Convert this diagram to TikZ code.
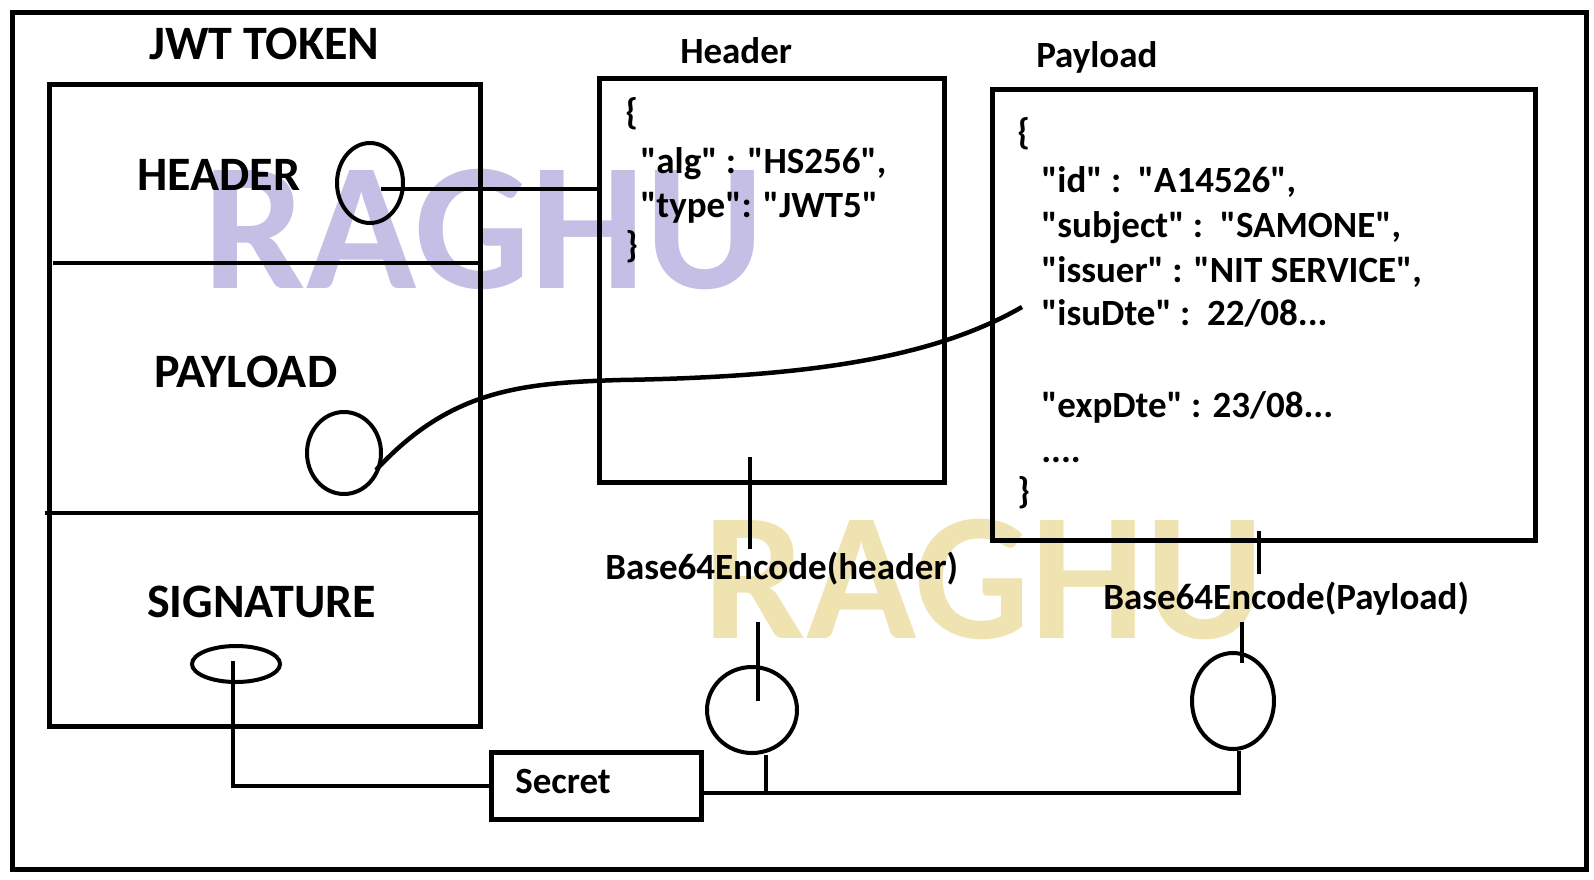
\documentclass[tikz,border=0pt]{standalone}
\usepackage{fontspec}
\setmainfont{Carlito}[Ligatures=TeXOff]
\usetikzlibrary{shapes.geometric}
\definecolor{wmpurple}{RGB}{197,190,229}
\definecolor{wmyellow}{RGB}{240,227,178}
\begin{document}
\begin{tikzpicture}[x=1pt,y=-1pt, line width=4.5pt,
  box/.style={draw, line width=4.5pt, anchor=north west, inner sep=0pt},
  oval/.style={draw, ellipse, line width=4pt, inner sep=0pt},
  big/.style={font=\fontsize{48}{58}\selectfont\bfseries, inner sep=0pt, anchor=base west},
  txt/.style={font=\fontsize{37}{45}\selectfont\bfseries, inner sep=0pt, anchor=base west},
  wm/.style={font=\fontsize{182}{200}\selectfont\bfseries, inner sep=0pt}]
\fill[white] (0,0) rectangle (1594,879);
\useasboundingbox (0,0) rectangle (1594,879);
% watermarks
\node[wm, text=wmpurple] (wm1) at (484,229) {RAGHU};
\node[wm, text=wmyellow] (wm2) at (984,579) {RAGHU};
% frames
\node[box, minimum width=1574pt, minimum height=857pt] (frame) at (10,10) {};
\node[box, minimum width=431pt, minimum height=642pt] (jwt) at (47,82) {};
\node[box, minimum width=345pt, minimum height=404pt] (hbox) at (597,76) {};
\node[box, minimum width=543pt, minimum height=451pt] (pbox) at (990,87) {};
\node[box, minimum width=210pt, minimum height=67pt] (sec) at (489,750) {};
% dividers
\coordinate (d1) at (53,263);
\coordinate (d2) at (45,513);
\draw (d1) -- (d1 -| jwt.east);
\draw (d2) -- (d2 -| jwt.east);
% big labels
\node[big] (tjwt) at (147,59) {JWT TOKEN};
\node[big] (thead) at (135,190) {HEADER};
\node[big] (tpay) at (152,387) {PAYLOAD};
\node[big] (tsig) at (145,617) {SIGNATURE};
% small labels
\node[txt] (lhead) at (678,63) {Header};
\node[txt] (lpay) at (1034,67) {Payload};
\node[txt] (lsec) at (513,793) {Secret};
\node[txt] (b64h) at (603,579) {Base64Encode(header)};
\node[txt] (b64p) at (1101,609) {Base64Encode(Payload)};
% header json
\node[txt] (h0) at (623,124) {\{};
\node[txt] (h1) at (638,173) {"alg" : "HS256",};
\node[txt] (h2) at (638,217) {"type": "JWT5"};
\node[txt] (h3) at (623,257) {\}};
% payload json
\node[txt] (p0) at (1015,144) {\{};
\node[txt] (p1) at (1039,192) {"id" :\ \ "A14526",};
\node[txt] (p2) at (1039,237) {"subject" :\ \ "SAMONE",};
\node[txt] (p3) at (1039,282) {"issuer" : "NIT SERVICE",};
\node[txt] (p4) at (1039,325) {"isuDte" :\ \ 22/08...};
\node[txt] (p5) at (1039,417) {"expDte" : 23/08...};
\node[txt] (p6) at (1039,462) {....};
\node[txt] (p7) at (1015,503) {\}};
% ovals
\node[oval, minimum width=66pt, minimum height=80pt] (hov) at (370,183) {};
\node[oval, minimum width=74pt, minimum height=82pt] (pov) at (344,453) {};
\node[oval, minimum width=88pt, minimum height=36pt] (sov) at (236,664) {};
\node[oval, minimum width=90pt, minimum height=86pt] (hc) at (752,710) {};
\node[oval, minimum width=82pt, minimum height=96pt] (pc) at (1233,701) {};
% connectors
\coordinate (hs) at (381,189);
\draw (hs) -- (hs -| hbox.west);
\coordinate (ps) at (376,470);
\coordinate (isu) at (1022,307);
\draw (ps) .. controls (450,390) and (520,383) .. (620,380)
      .. controls (800,377) and (930,360) .. (isu);
\coordinate (ss) at (233,661);
\draw (ss) |- (sec.west);
\coordinate (ha) at (750,457);
\coordinate (hb) at (750,549);
\draw (ha) -- (hb);
\coordinate (hc1) at (758,622);
\coordinate (hc2) at (758,701);
\draw (hc1) -- (hc2);
\coordinate (hj) at (766,793);
\draw (hj) -- (hj |- hc.south);
\coordinate (pj) at (1239,793);
\draw (sec.east |- pj) -- (pj) -- (pj |- pc.south);
\coordinate (pa) at (1259,531);
\coordinate (pb) at (1259,574);
\draw (pa) -- (pb);
\coordinate (pc1) at (1242,622);
\coordinate (pc2) at (1242,663);
\draw (pc1) -- (pc2);
\end{tikzpicture}
\end{document}
